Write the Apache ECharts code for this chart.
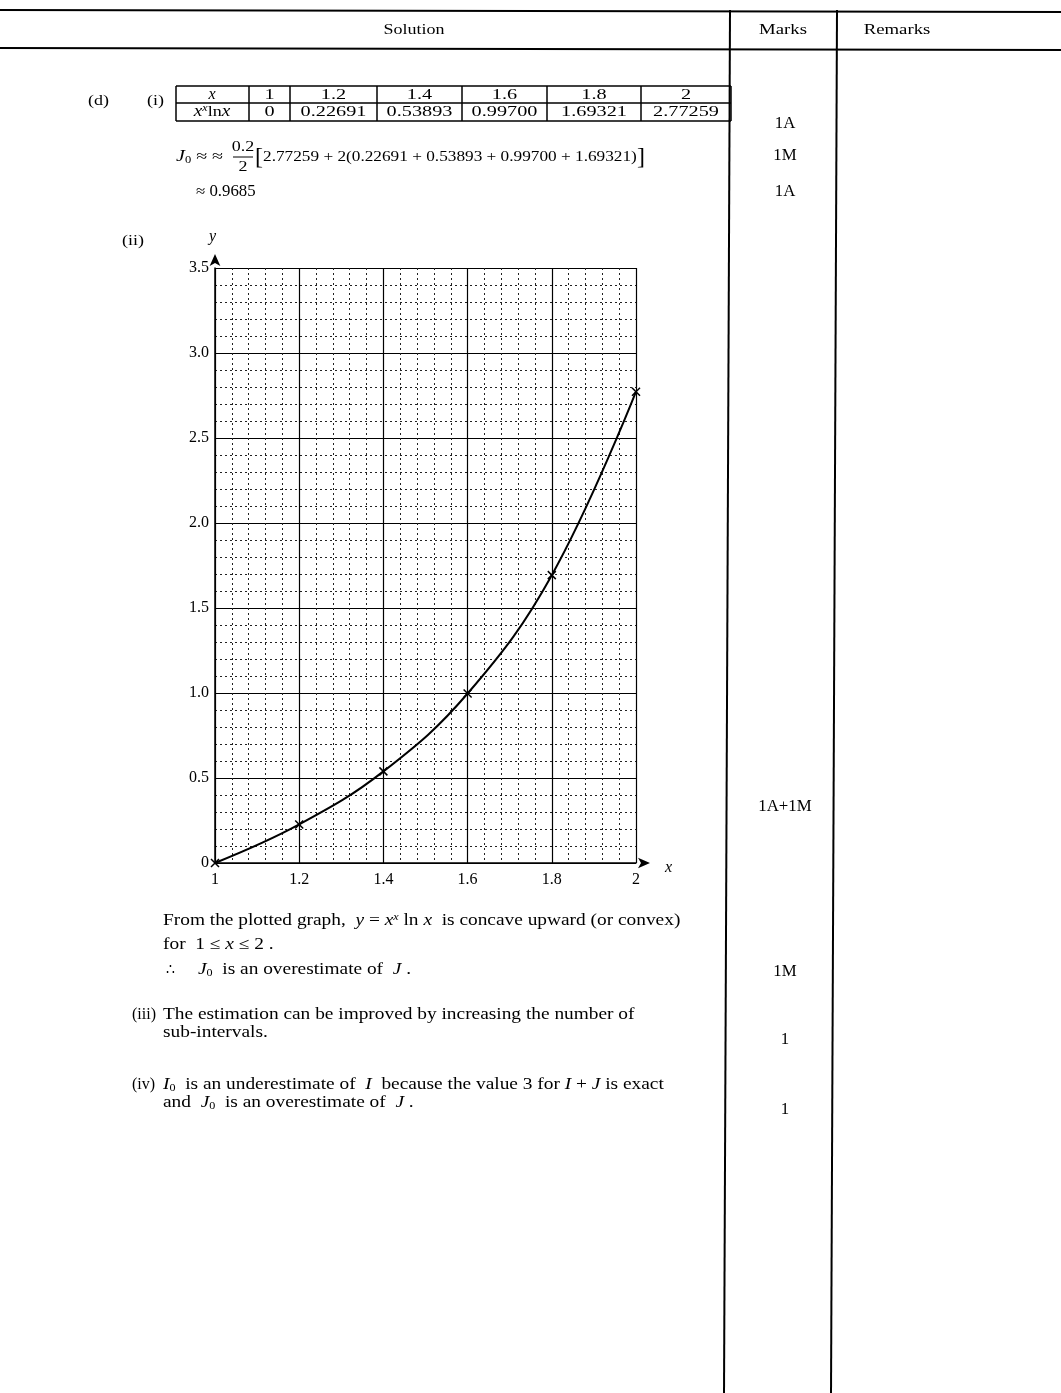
<!DOCTYPE html>
<html>
<head>
<meta charset="utf-8">
<script src="https://cdn.jsdelivr.net/npm/echarts@6/dist/echarts.min.js"></script>
<style>
  html, body { margin: 0; padding: 0; background: #fff; }
  #main { width: 1061px; height: 1393px; }
</style>
</head>
<body>
<div id="main"></div>
<script>
// table values (x, x^x ln x)
var xVals = [1, 1.2, 1.4, 1.6, 1.8, 2];
var yVals = [0, 0.22691, 0.53893, 0.99700, 1.69321, 2.77259];
// axis tick labels
var xTicks = ["1", "1.2", "1.4", "1.6", "1.8", "2"];
var yTicks = ["0", "0.5", "1.0", "1.5", "2.0", "2.5", "3.0", "3.5"];
// marks column
var marks = [
    ["1A", 124], ["1M", 156], ["1A", 192],
    ["1A+1M", 807], ["1M", 972], ["1", 1040], ["1", 1110]
];

var FONT = "'Liberation Serif', 'DejaVu Serif', serif";
var chart = echarts.init(document.getElementById("main"));

var rich = {
    i: { fontFamily: FONT, fontSize: 16, fontStyle: "italic", fill: "#000" },
    sub: { fontFamily: FONT, fontSize: 10, fill: "#000", verticalAlign: "bottom", padding: [7, 0, 0, 0] },
    sup: { fontFamily: FONT, fontSize: 10, fontStyle: "italic", fill: "#000", verticalAlign: "top", padding: [0, 0, 7, 0] }
};

function txt(x, y, text, opt) {
    opt = opt || {};
    return {
        type: "text", x: x, y: y, silent: true,
        scaleX: opt.sx || 1,
        style: {
            text: text,
            fill: "#000",
            font: (opt.weight || "normal") + " " + (opt.size || 16) + "px " + FONT,
            textAlign: opt.align || "left",
            textVerticalAlign: "middle",
            rich: rich
        }
    };
}
function ln(x1, y1, x2, y2, w) {
    return {
        type: "line", silent: true,
        shape: { x1: x1, y1: y1, x2: x2, y2: y2 },
        style: { stroke: "#000", lineWidth: w || 1 }
    };
}

var g = [];
// page frame
g.push(ln(0, 10, 1061, 12, 2));
g.push(ln(0, 48, 1061, 50, 2));
g.push(ln(730, 10, 724, 1393, 2));
g.push(ln(837, 10, 831, 1393, 2));
g.push(txt(414, 30, "Solution", { size: 15, align: "center", sx: 1.2 }));
g.push(txt(783, 30, "Marks", { size: 15, align: "center", sx: 1.25 }));
g.push(txt(897, 30, "Remarks", { size: 15, align: "center", sx: 1.25 }));

marks.forEach(function (m) {
    g.push(txt(785, m[1], m[0], { size: 16, align: "center", sx: 1.05 }));
});

// part (d)(i) table
g.push(txt(88, 101, "(d)", { size: 15, sx: 1.2 }));
g.push(txt(147, 101, "(i)", { size: 15, sx: 1.2 }));
var colX = [176, 249, 290, 377, 462, 547, 641, 731];
var rowY = [86, 103, 121];
rowY.forEach(function (y) { g.push(ln(176, y, 731, y, 1.5)); });
colX.forEach(function (x) { g.push(ln(x, 86, x, 121, 1.5)); });
g.push(txt(212, 95, "{i|x}", { size: 15, align: "center" }));
g.push(txt(212, 112, "{i|x}{sup|x}ln{i|x}", { size: 15, align: "center", sx: 1.2 }));
xVals.forEach(function (v, k) {
    var cx = (colX[k + 1] + colX[k + 2]) / 2;
    g.push(txt(cx, 95, xTicks[k], { size: 15, align: "center", sx: 1.35 }));
    g.push(txt(cx, 112, yVals[k] === 0 ? "0" : yVals[k].toFixed(5), { size: 15, align: "center", sx: 1.35 }));
});

// trapezium formula
g.push(txt(176, 157, "{i|J}{sub|0} ≈ ≈", { size: 16, sx: 1.25 }));
g.push(txt(243, 147, "0.2", { size: 15, align: "center", sx: 1.2 }));
g.push(ln(233, 157, 253, 157, 1));
g.push(txt(243, 167, "2", { size: 15, align: "center", sx: 1.2 }));
g.push(txt(255, 158, "[", { size: 24 }));
var sumTxt = "2.77259 + 2(" + yVals.slice(1, 5).map(function (v) { return v.toFixed(5); }).join(" + ") + ")";
g.push(txt(263, 157, sumTxt, { size: 15, sx: 1.15 }));
g.push(txt(637, 158, "]", { size: 24 }));
g.push(txt(196, 192, "≈ 0.9685", { size: 16, sx: 1.05 }));

// (ii) graph labels
g.push(txt(122, 241, "(ii)", { size: 15, sx: 1.2 }));
g.push(txt(209, 237, "{i|y}", { size: 16, weight: "bold" }));
g.push(txt(665, 868, "{i|x}", { size: 16 }));

// conclusion text
var body = { size: 16, sx: 1.21 };
g.push(txt(163, 921, "From the plotted graph,  {i|y} = {i|x}{sup|x} ln {i|x}  is concave upward (or convex)", body));
g.push(txt(163, 945, "for  1 ≤ {i|x} ≤ 2 .", body));
g.push(txt(166, 970, "∴", { size: 14 }));
g.push(txt(198, 970, "{i|J}{sub|0}  is an overestimate of  {i|J} .", body));
g.push(txt(132, 1015, "(iii)", { size: 16 }));
g.push(txt(163, 1015, "The estimation can be improved by increasing the number of", body));
g.push(txt(163, 1033, "sub-intervals.", body));
g.push(txt(132, 1085, "(iv)", { size: 16 }));
g.push(txt(163, 1085, "{i|I}{sub|0}  is an underestimate of  {i|I}  because the value 3 for {i|I} + {i|J} is exact", body));
g.push(txt(163, 1103, "and  {i|J}{sub|0}  is an overestimate of  {i|J} .", body));

chart.setOption({
    animation: false,
    backgroundColor: "#fff",
    grid: { left: 215, right: 425, top: 268, bottom: 530 },
    xAxis: {
        type: "value", min: 1, max: 2, interval: 0.2,
        axisLine: {
            lineStyle: { color: "#000", width: 1.5 },
            symbol: ["none", "arrow"], symbolSize: [8, 12], symbolOffset: [0, 14]
        },
        axisTick: { show: false },
        axisLabel: {
            color: "#000", fontFamily: FONT, fontSize: 16, margin: 9,
            formatter: function (v) { return xTicks[Math.round((v - 1) / 0.2)]; }
        },
        splitLine: { show: true, lineStyle: { color: "#000", width: 1.2 } },
        minorTick: { show: false, splitNumber: 5 },
        minorSplitLine: { show: true, lineStyle: { color: "#222", type: [2, 3], width: 1 } }
    },
    yAxis: {
        type: "value", min: 0, max: 3.5, interval: 0.5,
        axisLine: {
            show: true,
            lineStyle: { color: "#000", width: 1.5 },
            symbol: ["none", "arrow"], symbolSize: [8, 12], symbolOffset: [0, 14]
        },
        axisTick: { show: false },
        axisLabel: {
            color: "#000", fontFamily: FONT, fontSize: 16, margin: 6,
            formatter: function (v) { return yTicks[Math.round(v / 0.5)]; }
        },
        splitLine: { show: true, lineStyle: { color: "#000", width: 1.2 } },
        minorTick: { show: false, splitNumber: 5 },
        minorSplitLine: { show: true, lineStyle: { color: "#222", type: [2, 3], width: 1 } }
    },
    series: [{
        type: "line",
        data: xVals.map(function (x, k) { return [x, yVals[k]]; }),
        smooth: 0.4,
        symbol: "path://M0,0L10,10M10,0L0,10",
        symbolSize: 8,
        lineStyle: { color: "#000", width: 2 },
        itemStyle: { color: "#000", borderColor: "#000", borderWidth: 1.5 }
    }],
    graphic: g
});
</script>
</body>
</html>
